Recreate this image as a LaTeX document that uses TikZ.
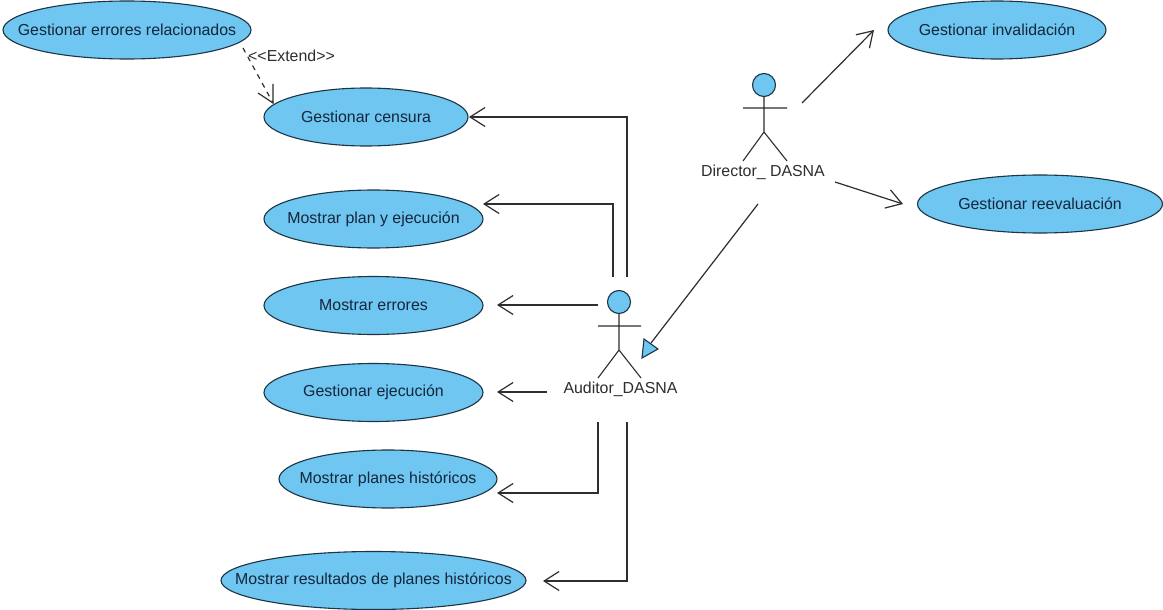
\documentclass[tikz,border=0pt]{standalone}
\usepackage{fontspec}
\setmainfont{Liberation Sans}
\usetikzlibrary{shapes.geometric,arrows.meta}
\definecolor{ucfill}{HTML}{6EC6F1}
\definecolor{ucline}{HTML}{1C3444}
\definecolor{uctext}{HTML}{14263C}
\definecolor{ink}{HTML}{2E2E2E}
\newcommand{\uclabel}[1]{\makebox[0pt]{#1}}
\tikzset{
  usecase/.style={ellipse,draw=ucline,fill=ucfill,line width=1.1pt,inner sep=0pt,text=uctext,font=\fontsize{15.9}{18}\selectfont,minimum height=58pt},
  actorhead/.style={circle,draw=ucline,fill=ucfill,line width=1.1pt,inner sep=0pt,minimum size=23pt},
  actorbody/.style={draw=ink,line width=1.1pt},
  actorlabel/.style={inner sep=0pt,text=ink,font=\fontsize{15.9}{18}\selectfont},
  assoc/.style={draw=ink,line width=1.2pt,-{Straight Barb[length=15pt,width=19pt,line width=1.2pt]}},
  gener/.style={draw=ink,line width=1.2pt},
  gentip/.style={draw=ucline,fill=ucfill,line width=1.1pt,line join=miter},
  extend/.style={draw=ink,line width=1.2pt,dash pattern=on 5pt off 5pt},
  extendtip/.style={draw=ink,line width=1.2pt}
}
\begin{document}
\begin{tikzpicture}[x=1pt,y=-1pt]
\useasboundingbox (0,0) rectangle (1163,610);
\fill[white] (0,0) rectangle (1163,610);
% use cases
\node[usecase,minimum width=248pt] (errel) at (127,30) {\uclabel{Gestionar errores relacionados}};
\node[usecase,minimum width=204pt] (censura) at (366,117) {\uclabel{Gestionar censura}};
\node[usecase,minimum width=219pt] (plan) at (373.5,219) {\uclabel{Mostrar plan y ejecución}};
\node[usecase,minimum width=219pt] (errores) at (373.5,305.5) {\uclabel{Mostrar errores}};
\node[usecase,minimum width=219pt] (ejec) at (373.5,392.5) {\uclabel{Gestionar ejecución}};
\node[usecase,minimum width=218pt] (planes) at (388,479) {\uclabel{Mostrar planes históricos}};
\node[usecase,minimum width=305pt] (result) at (373.5,580.5) {\uclabel{Mostrar resultados de planes históricos}};
\node[usecase,minimum width=218pt] (inval) at (997,30) {\uclabel{Gestionar invalidación}};
\node[usecase,minimum width=245pt] (reeval) at (1040,204) {\uclabel{Gestionar reevaluación}};
% Auditor actor
\node[actorhead] (audhead) at (619,302) {};
\coordinate (audhip) at (619,350);
\coordinate (audarml) at (598,326);
\coordinate (audarmr) at (641,326);
\coordinate (audlegl) at (598,378);
\coordinate (audlegr) at (641,378);
\draw[actorbody] (audhead.south) -- (audhip) (audarml) -- (audarmr) (audlegl) -- (audhip) -- (audlegr);
\node[actorlabel] (aud) at (620.5,389.5) {Auditor\_DASNA};
% Director actor
\node[actorhead] (dirhead) at (764,85) {};
\coordinate (dirhip) at (764,132);
\coordinate (dirarml) at (743,108);
\coordinate (dirarmr) at (787,108);
\coordinate (dirlegl) at (743,161);
\coordinate (dirlegr) at (787,161);
\draw[actorbody] (dirhead.south) -- (dirhip) (dirarml) -- (dirarmr) (dirlegl) -- (dirhip) -- (dirlegr);
\node[actorlabel] (dir) at (763,172) {Director\_ DASNA};
% free ends of connectors
\coordinate (fcen) at (627,277);
\coordinate (fplan) at (613,277);
\coordinate (ferr) at (598,305);
\coordinate (feje) at (547,392);
\coordinate (fpla) at (598,422);
\coordinate (fres) at (627,422);
\coordinate (tcen) at (469,117);
\coordinate (tplan) at (483,204);
\coordinate (terr) at (497,305);
\coordinate (teje) at (497,392);
\coordinate (tpla) at (497,493);
\coordinate (tres) at (543,581);
\coordinate (finv) at (802,103);
\coordinate (tinv) at (874,30);
\coordinate (free) at (835,182);
\coordinate (tree) at (903,204);
\coordinate (fgen) at (758,204);
\coordinate (tga) at (644,339);
\coordinate (tgb) at (658,349);
\coordinate (tgc) at (642,358);
\coordinate (tgm) at (651,343);
\coordinate (fext) at (243,48);
\coordinate (text) at (273,103);
\coordinate (bexa) at (273,84);
\coordinate (bexb) at (258,93);
% associations
\draw[assoc] (fcen) |- (tcen);
\draw[assoc] (fplan) |- (tplan);
\draw[assoc] (ferr) -- (terr);
\draw[assoc] (feje) -- (teje);
\draw[assoc] (fpla) |- (tpla);
\draw[assoc] (fres) |- (tres);
\draw[assoc] (finv) -- (tinv);
\draw[assoc] (free) -- (tree);
% generalization
\draw[gener] (fgen) -- (tgm);
\draw[gentip] (tga) -- (tgb) -- (tgc) -- cycle;
% extend
\draw[extend] (fext) -- (text);
\draw[extendtip] (bexa) -- (text) -- (bexb);
\node[actorlabel,anchor=west] (extlabel) at (248,56) {<{}<Extend>{}>};
\end{tikzpicture}
\end{document}
